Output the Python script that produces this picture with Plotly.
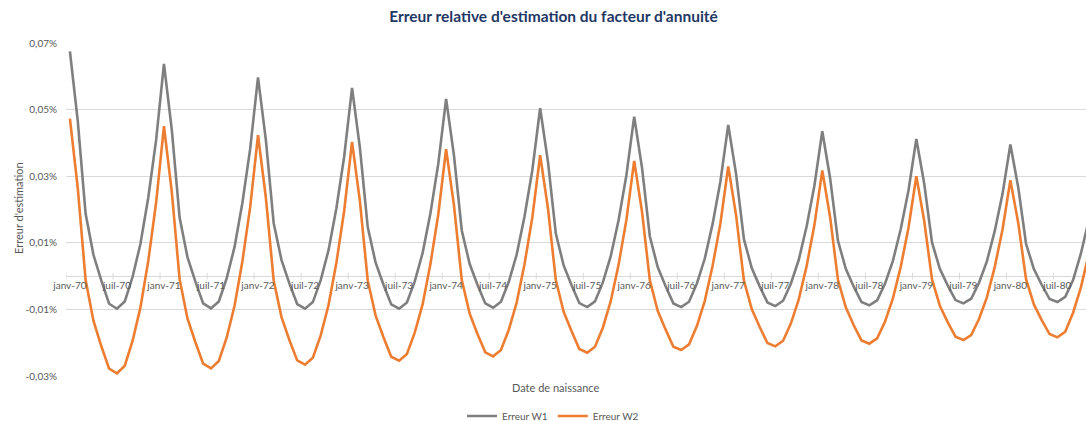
import plotly.graph_objects as go

# ---- data (values in %) ----
mois = ["janv", "févr", "mars", "avr", "mai", "juin", "juil", "août", "sept", "oct", "nov", "déc"]
annees = ["70", "71", "72", "73", "74", "75", "76", "77", "78", "79", "80"]
categories = [f"{m}-{a}" for a in annees for m in mois][:131]

erreur_w1 = [
    0.0675, 0.0466, 0.0188, 0.0064, -0.0013, -0.0083, -0.0098, -0.0076, -0.0002, 0.0097, 0.0236, 0.0409,
    0.0637, 0.0439, 0.0175, 0.0057, -0.0016, -0.0082, -0.0097, -0.0076, -0.0007, 0.0087, 0.0219, 0.0382,
    0.0597, 0.0409, 0.0159, 0.0048, -0.0022, -0.0084, -0.0098, -0.0078, -0.0012, 0.0078, 0.0204, 0.0360,
    0.0565, 0.0386, 0.0147, 0.0041, -0.0025, -0.0085, -0.0098, -0.0079, -0.0016, 0.0069, 0.0189, 0.0337,
    0.0532, 0.0363, 0.0137, 0.0037, -0.0026, -0.0082, -0.0095, -0.0077, -0.0017, 0.0064, 0.0178, 0.0318,
    0.0504, 0.0343, 0.0128, 0.0032, -0.0027, -0.0081, -0.0093, -0.0076, -0.0019, 0.0059, 0.0167, 0.0302,
    0.0479, 0.0325, 0.0119, 0.0027, -0.0030, -0.0082, -0.0093, -0.0077, -0.0022, 0.0052, 0.0156, 0.0284,
    0.0454, 0.0307, 0.0111, 0.0024, -0.0030, -0.0079, -0.0090, -0.0074, -0.0022, 0.0049, 0.0149, 0.0272,
    0.0435, 0.0294, 0.0106, 0.0022, -0.0031, -0.0078, -0.0088, -0.0073, -0.0023, 0.0045, 0.0140, 0.0257,
    0.0412, 0.0279, 0.0101, 0.0022, -0.0028, -0.0072, -0.0082, -0.0068, -0.0020, 0.0044, 0.0135, 0.0247,
    0.0395, 0.0267, 0.0097, 0.0021, -0.0026, -0.0069, -0.0078, -0.0062, -0.0012, 0.0068, 0.0168,
]

erreur_w2 = [
    0.0473, 0.0265, -0.0011, -0.0134, -0.0210, -0.0278, -0.0292, -0.0269, -0.0194, -0.0094, 0.0046, 0.0221,
    0.0450, 0.0253, -0.0010, -0.0127, -0.0198, -0.0263, -0.0277, -0.0255, -0.0185, -0.0090, 0.0043, 0.0207,
    0.0423, 0.0236, -0.0013, -0.0123, -0.0192, -0.0253, -0.0266, -0.0245, -0.0178, -0.0087, 0.0040, 0.0197,
    0.0403, 0.0225, -0.0013, -0.0118, -0.0183, -0.0242, -0.0254, -0.0234, -0.0170, -0.0085, 0.0036, 0.0185,
    0.0381, 0.0213, -0.0012, -0.0112, -0.0174, -0.0229, -0.0241, -0.0222, -0.0161, -0.0080, 0.0035, 0.0176,
    0.0363, 0.0203, -0.0012, -0.0107, -0.0165, -0.0219, -0.0230, -0.0212, -0.0155, -0.0076, 0.0033, 0.0168,
    0.0346, 0.0193, -0.0013, -0.0104, -0.0160, -0.0212, -0.0222, -0.0205, -0.0150, -0.0075, 0.0030, 0.0158,
    0.0329, 0.0183, -0.0013, -0.0099, -0.0152, -0.0201, -0.0211, -0.0194, -0.0142, -0.0070, 0.0030, 0.0154,
    0.0317, 0.0177, -0.0011, -0.0094, -0.0147, -0.0193, -0.0203, -0.0187, -0.0137, -0.0068, 0.0027, 0.0145,
    0.0300, 0.0167, -0.0010, -0.0089, -0.0138, -0.0182, -0.0192, -0.0177, -0.0129, -0.0064, 0.0027, 0.0140,
    0.0288, 0.0160, -0.0009, -0.0085, -0.0132, -0.0174, -0.0184, -0.0167, -0.0110, -0.0034, 0.0066,
]

y_ticks = [-0.03, -0.01, 0.01, 0.03, 0.05, 0.07]
y_tick_labels = ["-0,03%", "-0,01%", "0,01%", "0,03%", "0,05%", "0,07%"]
x_tick_labels = [c for c in categories if c.startswith("janv") or c.startswith("juil")]

TXT = "#595959"
GRID = "#d9d9d9"
FONT = "Lato"

L, R, T, B = 66, 0, 43, 45
PW = 1086 - L - R
PH = 421 - T - B

def px_x(x):
    return (x - L) / PW

def px_y(y):
    return (421 - B - y) / PH

fig = go.Figure()
fig.add_trace(go.Scatter(x=categories, y=erreur_w1, mode="lines", name="Erreur W1",
                         line=dict(color="#7f7f7f", width=2.6)))
fig.add_trace(go.Scatter(x=categories, y=erreur_w2, mode="lines", name="Erreur W2",
                         line=dict(color="#ed7d31", width=2.6)))

# cross tick marks at category boundaries every 6 months
shapes = []
for k in range(0, len(categories) + 6, 6):
    shapes.append(dict(type="line", xref="x", yref="y", x0=k - 0.5, x1=k - 0.5,
                       y0=-0.001, y1=0.001, line=dict(color=GRID, width=1)))

fig.update_layout(
    width=1086, height=421,
    margin=dict(l=L, r=R, t=T, b=B, autoexpand=False),
    paper_bgcolor="white", plot_bgcolor="white",
    font=dict(family=FONT, size=10, color=TXT),
    title=dict(text="<b>Erreur relative d'estimation du facteur d'annuité</b>",
               x=553.5 / 1086, xref="container", xanchor="center",
               y=1 - 17 / 421, yref="container", yanchor="middle",
               font=dict(family=FONT, size=15.5, color="#1f3864")),
    xaxis=dict(type="category", range=[-0.5, 129.65], automargin=False,
               tickvals=x_tick_labels, ticktext=x_tick_labels,
               showgrid=False, zeroline=False, showline=False, ticks="",
               anchor="free", position=0.3, ticklabelstandoff=2,
               tickfont=dict(family=FONT, size=10, color=TXT)),
    yaxis=dict(range=[-0.03, 0.07], tickvals=y_ticks, ticktext=y_tick_labels,
               automargin=False,
               showgrid=True, gridcolor=GRID, gridwidth=1,
               zeroline=True, zerolinecolor=GRID, zerolinewidth=1,
               showline=False, ticks="", ticklabelstandoff=8,
               tickfont=dict(family=FONT, size=10, color=TXT)),
    legend=dict(orientation="h", x=px_x(553), xanchor="center",
                y=px_y(416), yanchor="middle", font=dict(family=FONT, size=10, color=TXT),
                itemwidth=30, bgcolor="rgba(0,0,0,0)"),
    shapes=shapes,
    annotations=[
        dict(text="Date de naissance", xref="paper", yref="paper",
             x=px_x(555), y=px_y(387), showarrow=False,
             xanchor="center", yanchor="middle", font=dict(family=FONT, size=11, color=TXT)),
        dict(text="Erreur d'estimation", xref="paper", yref="paper",
             x=px_x(18), y=px_y(208), showarrow=False, textangle=-90,
             xanchor="center", yanchor="middle", font=dict(family=FONT, size=11, color=TXT)),
    ],
    showlegend=True,
)

fig.write_html("out.html",
               config={"displayModeBar": False},
               post_script="document.body.style.margin='0';document.body.style.overflow='hidden';")
